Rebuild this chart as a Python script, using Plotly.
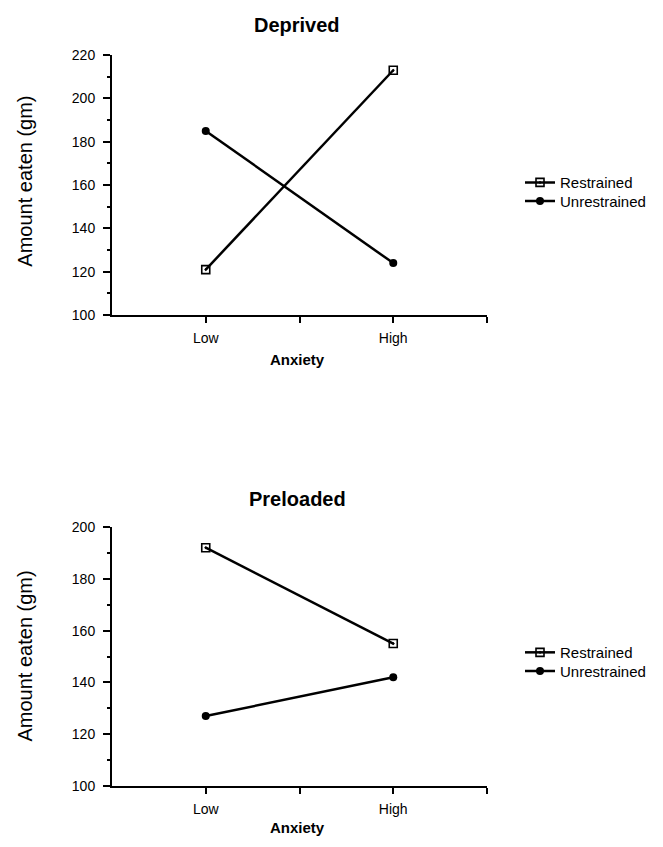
import plotly.graph_objects as go

# ---- data ----
categories = ["Low", "High"]
series_names = ["Restrained", "Unrestrained"]
deprived_restrained = [121, 213]
deprived_unrestrained = [185, 124]
preloaded_restrained = [192, 155]
preloaded_unrestrained = [127, 142]
panel_titles = ["Deprived", "Preloaded"]
y_title = "Amount eaten (gm)"
x_title = "Anxiety"

W, H = 663, 847
FONT = "Liberation Sans, Arial, Helvetica, sans-serif"

xpos = list(range(len(categories)))


def px_x(p):
    return p / W


def px_y(p):
    return 1 - p / H


fig = go.Figure()

styles = {
    "Restrained": dict(symbol="square-open-dot", size=8, line=dict(width=1.6, color="black"), color="black"),
    "Unrestrained": dict(symbol="circle", size=8, color="black"),
}

panels = [
    (deprived_restrained, deprived_unrestrained, "x", "y", ["legend", "legend2"], [178, 197]),
    (preloaded_restrained, preloaded_unrestrained, "x2", "y2", ["legend3", "legend4"], [657, 676]),
]
legend_layout = {}
for r, u, xa, ya, lgs, lys in panels:
    for name, vals, lg, ly in zip(series_names, [r, u], lgs, lys):
        fig.add_trace(go.Scatter(
            x=xpos, y=vals, name=name, mode="lines+markers",
            line=dict(color="black", width=2.5),
            marker=styles[name],
            xaxis=xa, yaxis=ya, legend=lg,
        ))
        legend_layout[lg] = dict(
            x=px_x(520), y=px_y(ly), xanchor="left", yanchor="middle",
            font=dict(family=FONT, size=15, color="black"), bgcolor="rgba(0,0,0,0)",
            itemwidth=30, borderwidth=0,
        )

xdom = [px_x(112), px_x(487)]
top_dom = [px_y(313), px_y(48)]
bot_dom = [px_y(793), px_y(529)]

xcommon = dict(
    range=[-0.5, 1.5], showline=True, linecolor="black", linewidth=2,
    showgrid=False, zeroline=False, ticks="outside", ticklen=6, tickwidth=1.5,
    tickcolor="black", tickvals=[0, 0.5, 1, 1.5], ticktext=[categories[0], "", categories[1], ""],
    tickfont=dict(family=FONT, size=14, color="black"), ticklabelstandoff=3,
    domain=xdom, fixedrange=True,
)
ycommon = dict(
    showline=True, linecolor="black", linewidth=2, showgrid=False, zeroline=False,
    ticks="outside", ticklen=7, tickwidth=1.5, tickcolor="black", dtick=20,
    minor=dict(dtick=10, ticks="outside", ticklen=3, tickcolor="black", tickwidth=1.5, showgrid=False),
    tickfont=dict(family=FONT, size=14, color="black"), ticklabelstandoff=5,
    fixedrange=True,
)

fig.update_layout(
    width=W, height=H,
    margin=dict(l=0, r=0, t=0, b=0),
    paper_bgcolor="white", plot_bgcolor="white",
    showlegend=True,
    xaxis=dict(**xcommon, anchor="y"),
    yaxis=dict(**ycommon, range=[100, 220], domain=top_dom, anchor="x"),
    xaxis2=dict(**xcommon, anchor="y2"),
    yaxis2=dict(**ycommon, range=[100, 200], domain=bot_dom, anchor="x2"),
    **legend_layout,
)

ann = []
for title, ty in zip(panel_titles, [17, 500]):
    ann.append(dict(text=f"<b>{title}</b>", x=px_x(297), y=px_y(ty), xref="paper", yref="paper",
                    showarrow=False, xanchor="center", yanchor="middle",
                    font=dict(family=FONT, size=20, color="black")))
for cy in [177, 661]:
    ann.append(dict(text=y_title, x=px_x(25), y=px_y(cy), xref="paper", yref="paper",
                    showarrow=False, textangle=-90, xanchor="center", yanchor="middle",
                    font=dict(family=FONT, size=20, color="black")))
for cy in [358, 835]:
    ann.append(dict(text=f"<b>{x_title}</b>", x=px_x(297), y=px_y(cy), xref="paper", yref="paper",
                    showarrow=False, xanchor="center", yanchor="middle",
                    font=dict(family=FONT, size=15, color="black")))
fig.update_layout(annotations=ann)

fig.write_html(
    "out.html",
    config={"displayModeBar": False},
    post_script="document.body.style.margin='0';document.body.style.overflow='hidden';",
)
